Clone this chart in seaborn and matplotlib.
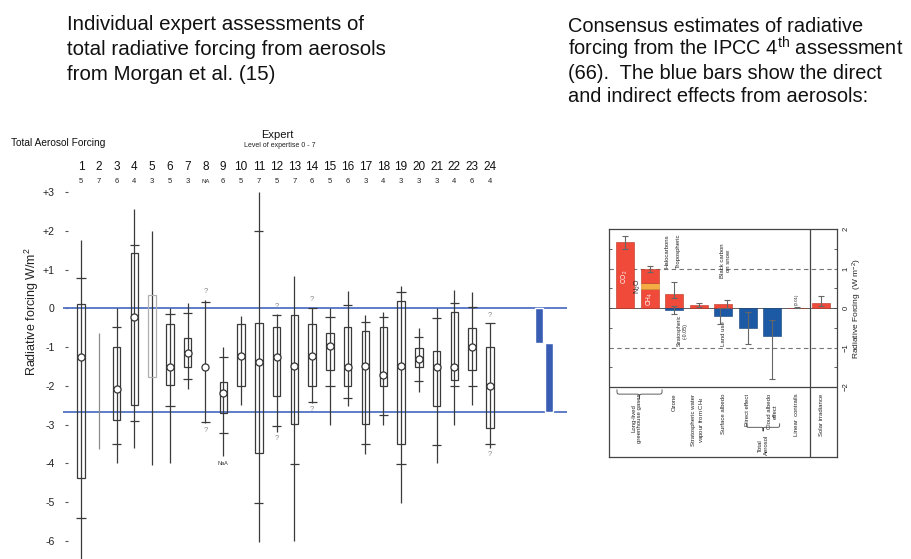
import numpy as np
import matplotlib
matplotlib.use("Agg")
import matplotlib.pyplot as plt
import matplotlib.transforms as mtransforms
from matplotlib.path import Path
from matplotlib.patches import PathPatch
import seaborn as sns

# ---------------- Morgan et al. expert assessments (W/m2) ----------------
experts = list(range(1, 25))
expertise = ["5", "7", "6", "4", "3", "5", "3", "NA", "6", "5", "7", "5",
             "7", "6", "5", "6", "3", "4", "3", "3", "3", "4", "6", "4"]
nan = np.nan
whisker_hi = [1.76, -0.63, 0.0, 2.57, 2.0, 0.0, 0.15, 0.23, -1.0, -0.19, 3.0, -0.15,
              0.83, 0.02, 0.0, 0.45, -0.17, -0.1, 0.58, -0.5, 0.0, 0.49, 0.43, -0.38]
tick_hi = [0.78, nan, -0.48, 1.63, nan, -0.13, -0.12, 0.18, -1.26, nan, 2.0, -0.17,
           nan, 0.0, -0.23, 0.1, -0.34, -0.21, 0.43, -0.74, -0.25, 0.15, 0.03, -0.38]
box_hi = [0.11, nan, -0.99, 1.43, 0.36, -0.41, -0.76, nan, -1.9, -0.39, -0.37, -0.48,
          -0.17, -0.39, -0.63, -0.48, -0.58, -0.48, 0.2, -1.02, -1.09, -0.09, -0.5, -1.0]
best = [-1.26, nan, -2.09, -0.23, nan, -1.5, -1.15, -1.5, -2.19, -1.23, -1.38, -1.26,
        -1.48, -1.23, -0.97, -1.5, -1.48, -1.71, -1.48, -1.3, -1.5, -1.5, -0.99, -2.0]
box_lo = [-4.39, nan, -2.89, -2.5, -1.77, -1.97, -1.51, nan, -2.7, -1.99, -3.73, -2.25,
          -2.99, -2.0, -1.58, -2.0, -2.99, -2.0, -3.51, -1.51, -2.51, -1.84, -1.58, -3.1]
tick_lo = [-5.41, nan, -3.51, -2.9, nan, -2.51, -1.82, -2.94, -3.22, nan, -5.02, -3.03,
           -4.02, -2.41, -1.99, -2.32, -3.51, -2.76, -4.02, -1.87, -3.52, -1.99, -1.99, -3.49]
whisker_lo = [-6.8, -3.64, -4.0, -3.6, -4.04, -4.0, -2.09, -2.97, -3.8, -2.5, -6.03, -3.19,
              -6.02, -2.45, -3.02, -2.52, -3.75, -3.02, -5.03, -2.17, -4.0, -3.02, -2.49, -3.61]
uncertain_experts = [8, 12, 14, 24]

# IPCC total aerosol range shown against the experts
ipcc_band = [0.0, -2.67]
ipcc_bar_top = [0.0, -0.9]
ipcc_bar_bottom = [-0.9, -2.67]

# ---------------- IPCC AR4 radiative forcing components ----------------
seg_pos = [0, 1, 1, 1, 2, 2, 3, 4, 4, 5, 6, 7, 8]
seg_value = [1.66, 0.48, 0.16, 0.34, 0.35, -0.05, 0.07, -0.2, 0.1, -0.5, -0.7, 0.01, 0.12]
seg_kind = ["warm", "warm", "n2o", "warm", "warm", "cool", "warm", "cool", "warm",
            "cool", "cool", "warm", "warm"]
err_pos = [0, 1, 2, 2, 3, 3.85, 4.15, 5, 6, 7, 8]
err_lo = [1.49, 0.90, 0.25, -0.15, 0.02, -0.4, 0.0, -0.9, -1.8, 0.003, 0.06]
err_hi = [1.83, 1.07, 0.65, 0.05, 0.12, 0.0, 0.2, -0.1, -0.3, 0.03, 0.30]
err_mid = [1.66, 0.98, 0.35, -0.05, 0.07, -0.2, 0.1, -0.5, -0.7, 0.01, 0.12]
category_labels = ["Long-lived\ngreenhouse gases", "", "Ozone",
                   "Stratospheric water\nvapour from CH$_4$", "Surface albedo",
                   "Direct effect", "Cloud albedo\neffect", "Linear  contrails",
                   "Solar irradiance"]
category_pos = [0.48, 1, 2, 3, 4, 5, 6, 7, 8]

left_heading = ["Individual expert assessments of",
                "total radiative forcing from aerosols",
                "from Morgan et al. (15)"]
right_heading = ["Consensus estimates of radiative",
                 "forcing from the IPCC 4$^{\\mathrm{th}}$ assessment",
                 "(66).  The blue bars show the direct",
                 "and indirect effects from aerosols:"]

sns.set_theme(style="white")
plt.rcParams["font.family"] = ["Liberation Sans", "DejaVu Sans"]
plt.rcParams["mathtext.fontset"] = "custom"
plt.rcParams["mathtext.rm"] = "Liberation Sans"
plt.rcParams["mathtext.it"] = "Liberation Sans:italic"
plt.rcParams["mathtext.bf"] = "Liberation Sans:bold"

W, H = 911, 559
fig = plt.figure(figsize=(W / 100, H / 100), dpi=100)
fig.patch.set_facecolor("white")


def fx(px):
    return px / W


def fy(py):
    return 1 - py / H


# ---- headings, one line at a time on fixed baselines ----
for line, base in zip(left_heading, [30, 55, 79.5]):
    fig.text(fx(67), fy(base), line, fontsize=14.8, va="baseline", ha="left", color="#111111")
for line, base in zip(right_heading, [31.7, 56, 79.3, 101.7]):
    fig.text(fx(568), fy(base), line, fontsize=14.4, va="baseline", ha="left", color="#111111")

# ---------------- left panel: expert box plots ----------------
ax = fig.add_axes([fx(60), fy(559), fx(575 - 60), (559 - 185) / H])
px_per_unit_x = 17.78
x_lo = (60 - 81) / px_per_unit_x + 1
x_hi = (575 - 81) / px_per_unit_x + 1
ax.set_xlim(x_lo, x_hi)
y_scale = 38.7
ax.set_ylim(-(559 - 308.5) / y_scale, (308.5 - 185) / y_scale)
ax.set_facecolor("white")
for s in ["top", "right", "bottom"]:
    ax.spines[s].set_visible(False)
ax.spines["left"].set_position(("data", (68 - 81) / px_per_unit_x + 1))
ax.spines["left"].set_color("none")
ax.set_xticks([])
yt = list(range(-6, 4))
ax.set_yticks(yt)
ax.set_yticklabels([("+%d" % v) if v > 0 else ("%d" % v) for v in yt], fontsize=7.6, color="#222222")
ax.tick_params(axis="y", direction="out", length=2.5, width=0.8, color="#555555", pad=7, left=True)

line_col = "#3a3a3a"
xs = np.array(experts, dtype=float)
wl = np.array(whisker_lo)
wh = np.array(whisker_hi)
colors = [("#8a8a8a" if e in (2,) else line_col) for e in experts]
ax.vlines(xs, wl, wh, colors=colors, linewidth=0.9, zorder=2)

bl = np.array(box_lo)
bh = np.array(box_hi)
has_box = ~np.isnan(bl)
box_edges = ["#b0b0b0" if e == 5 else line_col for e in np.array(experts)[has_box]]
ax.bar(xs[has_box], (bh - bl)[has_box], bottom=bl[has_box], width=0.42,
       fill=False, edgecolor=box_edges, linewidth=0.9, zorder=3)

tick_half = 0.26
for vals in (tick_hi, tick_lo):
    v = np.array(vals)
    ok = ~np.isnan(v)
    ax.hlines(v[ok], xs[ok] - tick_half, xs[ok] + tick_half, colors=line_col, linewidth=0.9, zorder=3)

bv = np.array(best)
okb = ~np.isnan(bv)
sns.scatterplot(x=xs[okb], y=bv[okb], ax=ax, marker="o", s=26, color="white",
                edgecolor="#333333", linewidth=0.9, zorder=5, legend=False)

for e in uncertain_experts:
    i = experts.index(e)
    ax.text(e, whisker_hi[i] + 0.12, "?", fontsize=5.5, color="#888888", ha="center", va="bottom")
    ax.text(e, whisker_lo[i] - 0.08, "?", fontsize=5.5, color="#888888", ha="center", va="top")
ax.text(9, -4.0, "NaA", fontsize=4, color="#333333", ha="center", va="center")

# IPCC aerosol band and bars
band_col = "#5173c4"
ax.hlines(ipcc_band, 0.0, 28.35, colors=band_col, linewidth=1.3, zorder=1)
ax.bar([26.76], [ipcc_bar_bottom[0] - ipcc_bar_top[0]], bottom=[ipcc_bar_top[0]], width=0.45,
       color="#3a5db4", zorder=4)
ax.bar([27.32], [ipcc_bar_bottom[1] - ipcc_bar_top[1]], bottom=[ipcc_bar_top[1]], width=0.45,
       color="#3a5db4", zorder=4)

ax.set_ylabel("Radiative forcing W/m$^2$", fontsize=9, color="#222222")
ax.yaxis.set_label_coords(-0.036, (559 - 312) / (559 - 185))

# header texts above the panel
tr = mtransforms.blended_transform_factory(ax.transData, fig.transFigure)
for e, lvl in zip(experts, expertise):
    ax.text(e, fy(167.5), str(e), transform=tr, fontsize=8.5, ha="center", va="center", color="#111111")
    ax.text(e, fy(181.5), lvl, transform=tr, fontsize=4.3 if lvl == "NA" else 5.5,
            ha="center", va="center", color="#222222")
fig.text(fx(11), fy(143), "Total Aerosol Forcing", fontsize=7.3, ha="left", va="center", color="#111111")
fig.text(fx(277), fy(135), "Expert", fontsize=8, ha="center", va="center", color="#111111")
fig.text(fx(280), fy(146), "Level of expertise 0 - 7", fontsize=5, ha="center", va="center", color="#222222")

# ---------------- right panel: IPCC AR4 forcing bars ----------------
axi = fig.add_axes([fx(609), fy(457), fx(837 - 609), (457 - 229) / H])
cat_px = 24.5
axi.set_xlim((609 - 625.3) / cat_px, (837 - 625.3) / cat_px)
iy = 39.5
axi.set_ylim(2 - (457 - 229) / iy, 2.0)
axi.set_facecolor("white")
for s in axi.spines.values():
    s.set_visible(True)
    s.set_color("#444444")
    s.set_linewidth(0.9)

palette = {"warm": "#f04a3a", "cool": "#1d5aa6", "n2o": "#f4ad45"}
edge = {"warm": "#b8321f", "cool": "#133f78", "n2o": "#c98a2a"}
pos_top = {}
neg_top = {}
for p, v, k in zip(seg_pos, seg_value, seg_kind):
    if v >= 0:
        b = pos_top.get(p, 0.0)
        pos_top[p] = b + v
    else:
        b = neg_top.get(p, 0.0)
        neg_top[p] = b + v
    axi.bar([p], [v], bottom=[b], width=0.72, color=palette[k], edgecolor=edge[k],
            linewidth=0.4, zorder=3)

axi.errorbar(err_pos, err_mid,
             yerr=[np.array(err_mid) - np.array(err_lo), np.array(err_hi) - np.array(err_mid)],
             fmt="none", ecolor="#666666", elinewidth=0.8, capsize=2, capthick=0.8, zorder=4)

sep_x = (810 - 625.3) / cat_px
axi.axhline(0, color="#444444", linewidth=0.6, zorder=2)
for yv in (1, -1):
    axi.axhline(yv, color="#777777", linewidth=0.8, linestyle=(0, (4, 3)), zorder=1)
axi.axhline(-2, color="#444444", linewidth=0.9, zorder=2)
axi.axvline(sep_x, color="#444444", linewidth=0.9, zorder=2)

axi.set_xticks([])
axi.set_yticks([-2, -1, 0, 1, 2])
axi.set_yticks(np.arange(-2, 2.01, 0.5), minor=True)
axi.yaxis.tick_right()
axi.tick_params(axis="y", which="both", direction="in", left=True, right=True,
                labelleft=False, labelright=True, length=2, width=0.6, color="#444444")
axi.tick_params(axis="y", which="major", labelsize=5.5, labelrotation=90, pad=4, labelcolor="#222222")
for lab in axi.get_yticklabels():
    lab.set_va("center")
axi.text(1.088, 0, "Radiative Forcing  (W m$^{-2}$)", rotation=90, fontsize=6,
         transform=mtransforms.blended_transform_factory(axi.transAxes, axi.transData),
         ha="center", va="center", color="#222222", clip_on=False)

small = dict(rotation=90, ha="center", fontsize=4.3, color="#222222")
axi.text(0, 0.78, "CO$_2$", va="center", **{**small, "color": "white", "fontsize": 4.8})
axi.text(1, 0.22, "CH$_4$", va="center", **{**small, "color": "white", "fontsize": 4.8})
axi.text(0.52, 0.55, "N$_2$O", va="center", **{**small, "fontsize": 5})
axi.text(1.72, 1.02, "Halocarbons", va="bottom", **small)
axi.text(2.15, 1.02, "Tropospheric", va="bottom", **small)
axi.text(2.32, -0.18, "Stratospheric\n(-0.05)", va="top", **{**small, "fontsize": 3.8})
axi.text(4.1, 0.76, "Black carbon\non snow", va="bottom", **small)
axi.text(4.0, -0.34, "Land use", va="top", **small)
axi.text(7.0, 0.07, "(0.01)", va="bottom", **{**small, "fontsize": 3.2})

for xp, lab in zip(category_pos, category_labels):
    if lab:
        axi.text(xp, -2.17, lab, va="top", multialignment="center", **small)
axi.text(5.63, -3.22, "Total\nAerosol", va="top", multialignment="center", **small)


def hbrace(a, x0, x1, y, depth, lw=0.6):
    xm = 0.5 * (x0 + x1)
    w = 0.08 * (x1 - x0)
    h = depth / 2
    verts = [(x0, y), (x0, y - h), (x0, y - h), (x0 + w, y - h),
             (xm - w, y - h),
             (xm, y - h), (xm, y - h), (xm, y - depth),
             (xm, y - h), (xm, y - h), (xm + w, y - h),
             (x1 - w, y - h),
             (x1, y - h), (x1, y - h), (x1, y)]
    codes = [Path.MOVETO, Path.CURVE4, Path.CURVE4, Path.CURVE4,
             Path.LINETO,
             Path.CURVE4, Path.CURVE4, Path.CURVE4,
             Path.CURVE4, Path.CURVE4, Path.CURVE4,
             Path.LINETO,
             Path.CURVE4, Path.CURVE4, Path.CURVE4]
    a.add_patch(PathPatch(Path(verts, codes), fill=False, edgecolor="#444444", linewidth=lw, zorder=3))


hbrace(axi, -0.34, 1.5, -2.06, 0.24)
hbrace(axi, 4.95, 6.3, -2.92, 0.2)

fig.savefig("out.png", dpi=100, facecolor="white")
